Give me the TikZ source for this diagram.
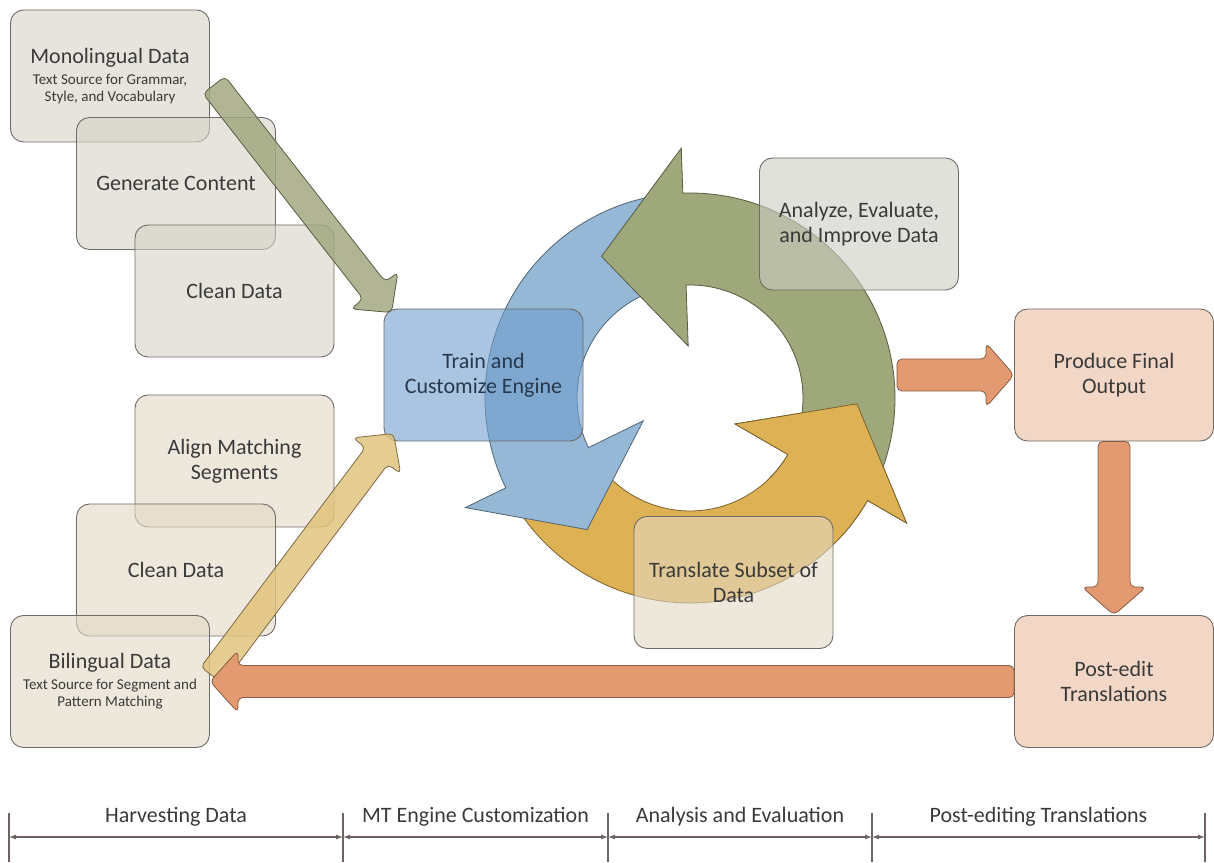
\documentclass[tikz,border=0pt]{standalone}
\usepackage{fontspec}
\setmainfont{Carlito}
\usepackage{tikz}
\usetikzlibrary{arrows.meta,positioning,calc}

% box and arrow colours
\definecolor{boxline}{HTML}{6F6B66}
\definecolor{boxtext}{HTML}{3A3A3A}
\definecolor{traintext}{HTML}{27384D}
\definecolor{greybox}{HTML}{D5D2C5}
\definecolor{mistbox}{HTML}{CDCDC5}
\definecolor{sandbox}{HTML}{E2D8C5}
\definecolor{bluebox}{HTML}{719ECD}
\definecolor{peachbox}{HTML}{E9BBA0}
\definecolor{ringblue}{HTML}{94B8D6}
\definecolor{ringgold}{HTML}{DEB254}
\definecolor{ringolive}{HTML}{9EA87A}
\definecolor{diagolive}{HTML}{A3A880}
\definecolor{diagtan}{HTML}{E1C37D}
\definecolor{flowpeach}{HTML}{E39A70}
\definecolor{phasegray}{HTML}{6E6262}

\newcommand{\boxfont}{\fontsize{22}{25}\selectfont}
\newcommand{\notefont}{\fontsize{15}{17}\selectfont}

% ring geometry
\newcommand{\ringIn}{113}
\newcommand{\ringOut}{205}
\newcommand{\headIn}{52}
\newcommand{\headOut}{250}
\newcommand{\headTip}{167}

% one curved arrow of the cycle: colour, tail angle, head base angle, tip angle
\newcommand{\ringarrow}[4]{%
  \filldraw[fill=#1, draw=#1!55!black, line width=0.8pt, shift={(ring)}]
    (#2:\ringIn) -- (#2:\ringOut) arc[start angle=#2, end angle=#3, radius=\ringOut]
    -- (#3:\headOut) -- (#4:\headTip) -- (#3:\headIn) -- (#3:\ringIn)
    arc[start angle=#3, end angle=#2, radius=\ringIn] -- cycle;}

% straight block arrow: style, from, to, shaft half width, head half width
\newcommand{\fatarrow}[5]{%
  \path[#1] let \p1=(#2), \p2=(#3),
      \n1={atan2(\y2-\y1,\x2-\x1)}, \n2={veclen(\x2-\x1,\y2-\y1)-28}
    in ($(\p1)+({\n1-90}:#4)$) -- ($(\p1)+(\n1:\n2)+({\n1-90}:#4)$)
    -- ($(\p1)+(\n1:\n2)+({\n1-90}:#5)$) -- (\p2)
    -- ($(\p1)+(\n1:\n2)+({\n1+90}:#5)$) -- ($(\p1)+(\n1:\n2)+({\n1+90}:#4)$)
    -- ($(\p1)+({\n1+90}:#4)$) -- cycle;}

\tikzset{
  stage/.style={draw=boxline, line width=0.9pt, rounded corners=13pt,
    minimum width=199pt, minimum height=132pt, inner sep=3pt, align=center,
    fill opacity=0.6, text opacity=1, text=boxtext, font=\boxfont},
  flow/.style={fill=flowpeach, draw=flowpeach!60!black, line width=0.8pt,
    rounded corners=5pt},
  feed/.style={fill=#1, fill opacity=0.85, draw=#1!55!black, line width=0.8pt,
    rounded corners=5pt},
  phase/.style={draw=phasegray, line width=1.1pt, <->,
    >={Latex[length=7pt,width=5pt]}},
  phasetick/.style={draw=phasegray, line width=1.1pt},
  phaselabel/.style={text=boxtext, font=\boxfont, inner sep=0pt}
}

\begin{document}
\begin{tikzpicture}[x=1pt, y=1pt]
\useasboundingbox (0,0) rectangle (1214,862);

% cycle in the middle
\coordinate (ring) at (690,464);
\ringarrow{ringgold}{215}{330}{358}
\ringarrow{ringblue}{100}{206}{232}
\ringarrow{ringolive}{338}{452}{482}
\begin{scope}
  \clip (ring) -- ++(315:300) arc[start angle=315, end angle=375, radius=300] -- cycle;
  \ringarrow{ringgold}{215}{330}{358}
\end{scope}

% monolingual branch
\node[stage, fill=greybox] (mono) at (110,786)
  {Monolingual Data\\[-4pt] \notefont Text Source for Grammar,\\[-8pt] \notefont Style, and Vocabulary};
\node[stage, fill=greybox] (gen) at (176,678.5) {Generate Content};
\node[stage, fill=greybox] (cleanA) at (234.5,571) {Clean Data};

% bilingual branch
\node[stage, fill=sandbox] (align) at (234.5,401) {Align Matching\\ Segments};
\node[stage, fill=sandbox] (cleanB) at (176,292) {Clean Data};
\node[stage, fill=sandbox] (bili) at (110,180.5)
  {Bilingual Data\\[-4pt] \notefont Text Source for Segment and\\[-8pt] \notefont Pattern Matching};

% engine loop
\node[stage, fill=bluebox, text=traintext] (train) at (483.5,487) {Train and\\ Customize Engine};
\node[stage, fill=mistbox] (analyze) at (859,638) {Analyze, Evaluate,\\ and Improve Data};
\node[stage, fill=sandbox] (translate) at (733.5,279.5) {Translate Subset of\\ Data};

% output side
\node[stage, fill=peachbox] (prod) at (1114,487) {Produce Final\\ Output};
\node[stage, fill=peachbox] (post) at (1114,180.5) {Post-edit\\ Translations};

% feeds into the engine
\coordinate (monoarr) at ($(mono.east)+(4,-9)$);
\coordinate (biliarr) at ($(bili.east)+(2,6)$);
\coordinate (trainA) at ($(train.north west)+(8,-4)$);
\coordinate (trainB) at ($(train.south west)+(10,8)$);
\fatarrow{feed=diagolive}{monoarr}{trainA}{14}{30}
\fatarrow{feed=diagtan}{biliarr}{trainB}{14}{30}

% post-editing loop
\coordinate (ringexit) at (897,487);
\fatarrow{flow}{ringexit}{prod.west}{16}{32}
\fatarrow{flow}{prod.south}{post.north}{16}{32}
\fatarrow{flow}{post.west}{bili.east}{16}{31}

% phases along the bottom
\foreach \x [count=\i from 0] in {9,343,608,872,1205}
  \coordinate (t\i) at (\x,25);
\foreach \i in {0,...,4}
  \draw[phasetick] ($(t\i)+(0,24)$) -- ($(t\i)+(0,-25)$);
\draw[phase] (t0) -- (t1) node[midway, above=10pt, phaselabel] (ph1) {Harvesting Data};
\draw[phase] (t1) -- (t2) node[midway, above=10pt, phaselabel] (ph2) {MT Engine Customization};
\draw[phase] (t2) -- (t3) node[midway, above=10pt, phaselabel] (ph3) {Analysis and Evaluation};
\draw[phase] (t3) -- (t4) node[midway, above=10pt, phaselabel] (ph4) {Post-editing Translations};
\end{tikzpicture}
\end{document}
